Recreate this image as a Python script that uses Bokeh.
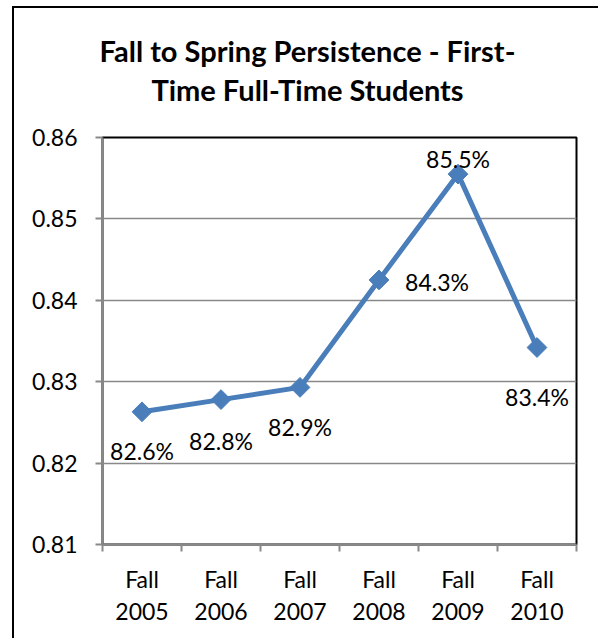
from bokeh.plotting import figure
from bokeh.models import FixedTicker, Range1d, ColumnDataSource, NumeralTickFormatter
from bokeh.core.properties import value
from bokeh.embed import file_html
from bokeh.resources import INLINE
import numpy as np

# ---- data ----
categories = ["Fall\n2005", "Fall\n2006", "Fall\n2007", "Fall\n2008", "Fall\n2009", "Fall\n2010"]
persistence = [0.8263, 0.8278, 0.8293, 0.8425, 0.8555, 0.8342]
data_labels = ["82.6%", "82.8%", "82.9%", "84.3%", "85.5%", "83.4%"]
y_ticks = [0.81, 0.82, 0.83, 0.84, 0.85, 0.86]
title_lines = ["Fall to Spring Persistence - First-", "Time Full-Time Students"]

# label placement (screen px offsets) per point
label_dx = [0, 0, 0, 58, 0, 0]
label_dy = [39, 41, 40, 2, -15, 49]

FONT = "Lato"
BLUE = "#4A7EBB"
GRID = "#898989"
W = 586
TITLE_H = 100

# ---- title strip (its own small figure, pixel coordinates) ----
t = figure(width=W, height=TITLE_H, output_backend="svg", toolbar_location=None,
           x_range=Range1d(0, W), y_range=Range1d(TITLE_H, 0),
           x_axis_location=None, y_axis_location=None, min_border=0)
t.grid.visible = False
t.outline_line_color = None
t.background_fill_color = "white"
t.border_fill_color = "white"
t.text(x=[293, 293], y=[42, 81], text=title_lines, text_align="center",
       text_baseline="middle", text_font=value(FONT), text_font_size="29px",
       text_font_style="bold", text_color="black")
t.styles = {"border-left": "2px solid black", "border-top": "2px solid black",
            "margin-left": "12px", "margin-top": "6px"}

# ---- main chart ----
n = len(categories)
xs = [i + 0.5 for i in range(n)]

p = figure(width=W, height=532, output_backend="svg", toolbar_location=None,
           x_range=Range1d(0, n), y_range=Range1d(y_ticks[0], y_ticks[-1]),
           min_border_left=88, min_border_right=24, min_border_top=31, min_border_bottom=94)
p.styles = {"border-left": "2px solid black", "margin-left": "12px"}

p.background_fill_color = "white"
p.border_fill_color = "white"
p.outline_line_color = "black"
p.outline_line_width = 2

p.xaxis.ticker = FixedTicker(ticks=xs, minor_ticks=list(range(n + 1)))
p.xaxis.major_label_overrides = {x: c for x, c in zip(xs, categories)}
p.xaxis.major_tick_line_color = None
p.xaxis.minor_tick_line_color = GRID
p.xaxis.minor_tick_line_width = 2
p.xaxis.minor_tick_out = 7
p.xaxis.minor_tick_in = 0
p.xaxis.axis_line_color = GRID
p.xaxis.axis_line_width = 2
p.xaxis.major_label_text_font = FONT
p.xaxis.major_label_text_font_size = "23px"
p.xaxis.major_label_text_color = "black"
p.xaxis.major_label_standoff = 13
p.xaxis.major_label_text_line_height = 1.15
p.xgrid.grid_line_color = None

p.yaxis.ticker = FixedTicker(ticks=y_ticks, minor_ticks=[])
p.yaxis.formatter = NumeralTickFormatter(format="0.00")
p.yaxis.major_tick_line_color = GRID
p.yaxis.major_tick_line_width = 2
p.yaxis.major_tick_out = 7
p.yaxis.major_tick_in = 0
p.yaxis.axis_line_color = GRID
p.yaxis.axis_line_width = 2
p.yaxis.major_label_text_font = FONT
p.yaxis.major_label_text_font_size = "23px"
p.yaxis.major_label_text_color = "black"
p.yaxis.major_label_standoff = 18
p.ygrid.grid_line_color = GRID
p.ygrid.grid_line_width = 1.5
p.ygrid.ticker = FixedTicker(ticks=y_ticks[1:-1])

src = ColumnDataSource(dict(x=xs, y=persistence, lab=data_labels, dx=label_dx, dy=label_dy))
p.line("x", "y", source=src, line_color=BLUE, line_width=5)
p.scatter("x", "y", source=src, marker="square", angle=np.pi / 4, size=14,
          fill_color=BLUE, line_color=BLUE)
p.text("x", "y", text="lab", source=src, x_offset="dx", y_offset="dy",
       text_align="center", text_baseline="middle", text_font=value(FONT),
       text_font_size="23px", text_color="black")

open("out.html", "w").write(file_html([t, p], INLINE))
